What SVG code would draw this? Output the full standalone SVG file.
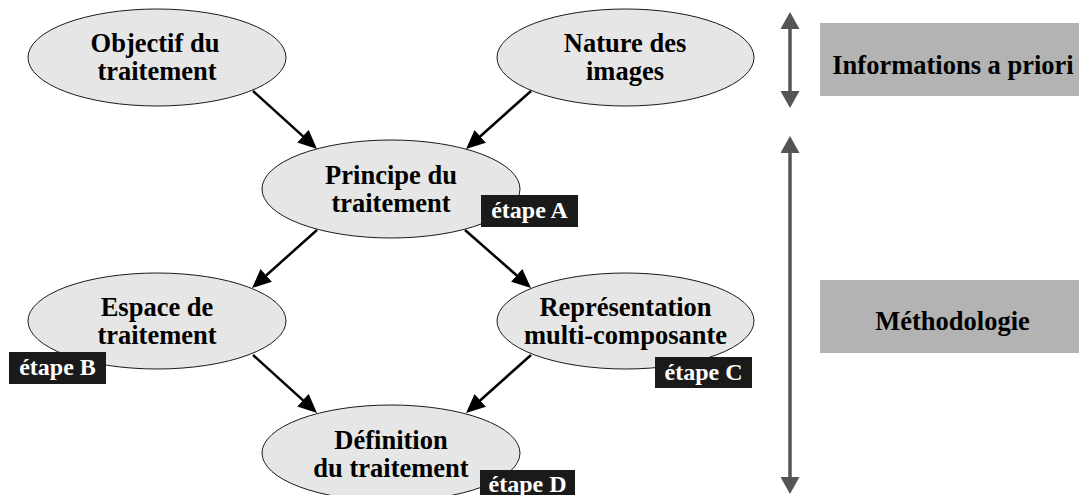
<svg xmlns="http://www.w3.org/2000/svg" width="1079" height="495" viewBox="0 0 1079 495">
<style>
.node ellipse{fill:#e6e6e6;stroke:#1a1a1a;stroke-width:1}
.lbl{font-family:"Liberation Serif","Times New Roman",serif;font-weight:bold;font-size:26.5px;fill:#000;text-anchor:middle}
.tag rect{fill:#1a1a1a}
.tag text{font-family:"Liberation Serif","Times New Roman",serif;font-weight:bold;font-size:24px;fill:#fff;text-anchor:middle}
.edge{stroke:#000;stroke-width:2.5;fill:none;marker-end:url(#ah)}
.side{stroke:#555;stroke-width:3.5;fill:none;marker-start:url(#gh);marker-end:url(#gh)}
.band rect{fill:#b3b3b3}
</style>
<defs>
<marker id="ah" viewBox="0 0 19 17" refX="11" refY="8.5" markerWidth="19" markerHeight="17" markerUnits="userSpaceOnUse" orient="auto">
<path d="M0,0 L19,8.5 L0,17 z" fill="#000"/>
</marker>
<marker id="gh" viewBox="0 0 17 19" refX="9" refY="9.5" markerWidth="17" markerHeight="19" markerUnits="userSpaceOnUse" orient="auto-start-reverse">
<path d="M0,0 L17,9.5 L0,19 z" fill="#555"/>
</marker>
</defs>
<g id="connectors">
<line class="edge" x1="253" y1="91" x2="311.1" y2="143.6"/>
<line class="edge" x1="531" y1="91" x2="472" y2="143.7"/>
<line class="edge" x1="317" y1="230" x2="258" y2="282.7"/>
<line class="edge" x1="465" y1="230" x2="525" y2="282.7"/>
<line class="edge" x1="253" y1="355" x2="311.1" y2="407.6"/>
<line class="edge" x1="531" y1="355" x2="472" y2="407.7"/>
<line class="side" x1="790" y1="20" x2="790" y2="100"/>
<line class="side" x1="790" y1="144" x2="790" y2="486"/>
</g>
<g id="objectif" class="node">
<ellipse cx="157" cy="57.5" rx="129" ry="48.5"/>
<text class="lbl" x="155" y="52">Objectif du</text>
<text class="lbl" x="157" y="80">traitement</text>
</g>
<g id="nature" class="node">
<ellipse cx="625.5" cy="57.5" rx="128.5" ry="48.5"/>
<text class="lbl" x="625" y="52">Nature des</text>
<text class="lbl" x="625" y="80">images</text>
</g>
<g id="principe" class="node">
<ellipse cx="391" cy="189" rx="129" ry="49"/>
<text class="lbl" x="391" y="184">Principe du</text>
<text class="lbl" x="391" y="212">traitement</text>
</g>
<g id="espace" class="node">
<ellipse cx="157" cy="321" rx="129" ry="48"/>
<text class="lbl" x="157" y="316">Espace de</text>
<text class="lbl" x="157" y="344">traitement</text>
</g>
<g id="representation" class="node">
<ellipse cx="625.5" cy="321" rx="128.5" ry="48"/>
<text class="lbl" x="625.5" y="316">Représentation</text>
<text class="lbl" x="625.5" y="344">multi-composante</text>
</g>
<g id="definition" class="node">
<ellipse cx="391" cy="453" rx="129" ry="48"/>
<text class="lbl" x="391" y="449">Définition</text>
<text class="lbl" x="391" y="477">du traitement</text>
</g>
<g id="etapeA" class="tag"><rect x="481" y="195" width="97" height="32"/><text x="529.5" y="218">étape A</text></g>
<g id="etapeB" class="tag"><rect x="9" y="352" width="97" height="32"/><text x="57.5" y="375">étape B</text></g>
<g id="etapeC" class="tag"><rect x="655" y="357" width="97" height="31"/><text x="703.5" y="380">étape C</text></g>
<g id="etapeD" class="tag"><rect x="480" y="470" width="95" height="30"/><text x="527.5" y="492">étape D</text></g>
<g id="informations" class="band">
<rect x="820" y="23" width="259" height="73"/>
<text class="lbl" x="953" y="74">Informations a priori</text>
</g>
<g id="methodologie" class="band">
<rect x="820" y="280" width="259" height="73"/>
<text class="lbl" x="952.5" y="330">Méthodologie</text>
</g>
</svg>
